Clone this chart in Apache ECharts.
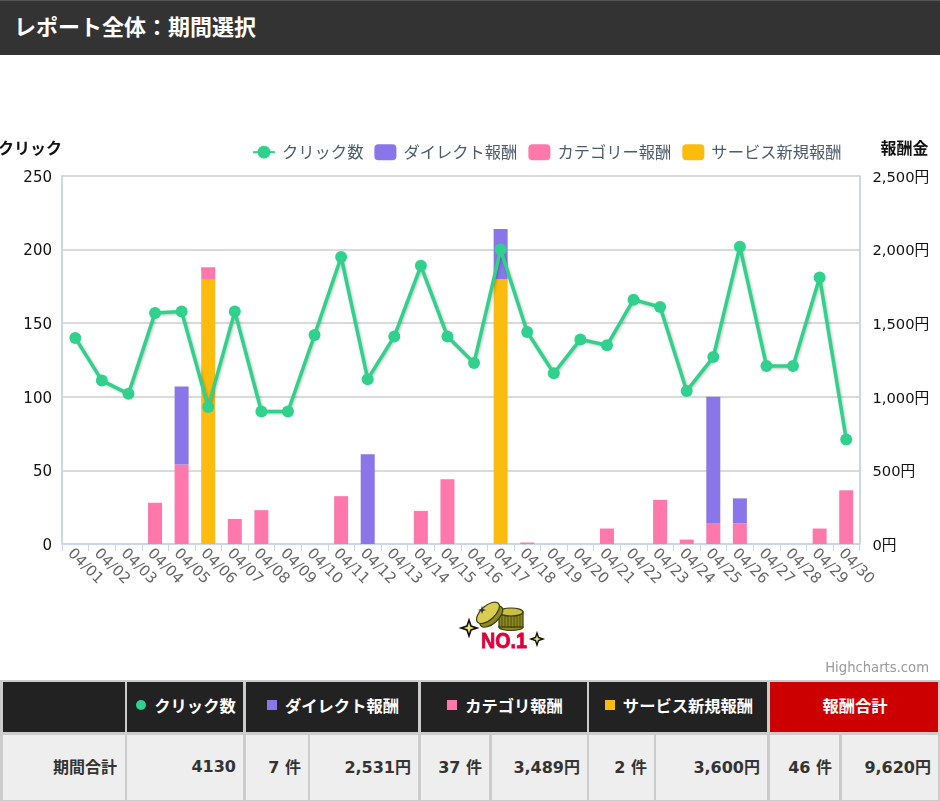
<!DOCTYPE html>
<html lang="ja">
<head>
<meta charset="utf-8">
<title>レポート全体：期間選択</title>
<script src="https://cdn.jsdelivr.net/npm/echarts@6/dist/echarts.min.js"></script>
<style>
html,body{margin:0;padding:0;background:#fff;width:940px;height:801px;overflow:hidden;font-family:"DejaVu Sans","Noto Sans CJK JP",sans-serif}
#chart{position:absolute;left:0;top:0;width:940px;height:801px}
#head{position:absolute;left:0;top:0;width:940px;height:55px;background:#333;color:#fff;font:bold 22px/49px "Noto Sans CJK JP",sans-serif;padding-left:14px;box-sizing:border-box;border-top:1px solid #555}
#tbl{position:absolute;left:0;top:680px;width:940px;height:121px;background:#ccc}
.c{position:absolute;box-sizing:border-box;display:flex;align-items:center;font-weight:bold;font-size:16px}
.h{background:#222;color:#fff;justify-content:center;font-family:"Noto Sans CJK JP",sans-serif;font-size:16.3px;padding:0 0 4px 2px}
.t{background:#c00}
.v{background:#eee;color:#333;justify-content:flex-end;padding-right:7px;padding-bottom:3px}
.m{display:inline-block;margin-right:8px}
#logo{position:absolute;left:458px;top:600px}
</style>
</head>
<body>
<div id="chart"></div>
<div id="head">レポート全体：期間選択</div>
<svg id="logo" width="90" height="54" viewBox="0 0 90 54">
  <g stroke="#3a3a10" stroke-width="1.2">
    <ellipse cx="53" cy="27" rx="12" ry="3.5" fill="#8f8a20"/>
    <rect x="41" y="12" width="24" height="15" fill="#8f8a20"/>
    <path d="M44 14v13M47 14v13M50 14v14M53 14v14M56 14v14M59 14v13M62 14v13" stroke-width=".7"/>
    <ellipse cx="53" cy="12" rx="12" ry="4" fill="#c9bf45"/>
    <g transform="rotate(-42 32 15)">
      <ellipse cx="32" cy="17" rx="14" ry="7" fill="#8f8a20"/>
      <ellipse cx="32" cy="12" rx="14" ry="7" fill="#d8cd50"/>
    </g>
  </g>
  <path d="M11 20 L13 26 L19 28 L13 30 L11 36 L9 30 L3 28 L9 26 Z" fill="#eee56a" stroke="#111" stroke-width="1.6"/>
  <path d="M79 33 L80.5 37.5 L85 39 L80.5 40.5 L79 45 L77.5 40.5 L73 39 L77.5 37.5 Z" fill="#eee56a" stroke="#111" stroke-width="1.4"/>
  <path d="M24 6 L25 9 L28 10 L25 11 L24 14 L23 11 L20 10 L23 9 Z" fill="#333"/>
  <text x="23" y="48" font-family="Liberation Sans" font-weight="bold" font-size="22" fill="#e0003c" stroke="#e0003c" stroke-width=".8" textLength="46" lengthAdjust="spacingAndGlyphs">NO.1</text>
</svg>
<div id="tbl"></div>
<script>
var dates = ['04/01','04/02','04/03','04/04','04/05','04/06','04/07','04/08','04/09','04/10','04/11','04/12','04/13','04/14','04/15','04/16','04/17','04/18','04/19','04/20','04/21','04/22','04/23','04/24','04/25','04/26','04/27','04/28','04/29','04/30'];
var clicks = [140,111,102,157,158,93,158,90,90,142,195,112,141,189,141,123,200,144,116,139,135,166,161,104,127,202,121,121,181,71];
var direct = [0,0,0,0,530,0,0,0,0,0,0,610,0,0,0,0,340,0,0,0,0,0,0,0,860,170,0,0,0,0];
var category = [0,0,0,280,540,80,170,230,0,0,325,0,0,225,440,0,0,10,0,0,105,0,300,30,140,140,0,0,105,365];
var service = [0,0,0,0,0,1800,0,0,0,0,0,0,0,0,0,0,1800,0,0,0,0,0,0,0,0,0,0,0,0,0];
var seriesNames = ['クリック数','ダイレクト報酬','カテゴリー報酬','サービス新規報酬'];
var colors = ['#2fd18d','#8a76e8','#ff78ab','#fbbc0e'];
var headLabels = ['','クリック数','ダイレクト報酬','カテゴリ報酬','サービス新規報酬','報酬合計'];
var rowLabel = '期間合計';
var totals = ['4130','7 件','2,531円','37 件','3,489円','2 件','3,600円','46 件','9,620円'];

var font = '"DejaVu Sans","Noto Sans CJK JP",sans-serif';
var jp = '"Noto Sans CJK JP",sans-serif';
var chart = echarts.init(document.getElementById('chart'), null, {renderer:'canvas'});
function bar(i, data){
  return {name:seriesNames[i],type:'bar',stack:'pay',yAxisIndex:1,data:data,barWidth:14,z:2,
    itemStyle:{color:colors[i]},emphasis:{disabled:true}};
}
chart.setOption({
  animation:false,
  textStyle:{fontFamily:font},
  legend:{left:247,top:139,itemWidth:22,itemHeight:16,itemGap:11,
    textStyle:{color:'#4c5b6c',fontSize:16.3,fontFamily:jp,padding:[0,0,0,2]},
    data:[{name:seriesNames[0]},
      {name:seriesNames[1],icon:'roundRect'},
      {name:seriesNames[2],icon:'roundRect'},
      {name:seriesNames[3],icon:'roundRect'}]},
  grid:{left:62,right:80.5,top:176,height:368,containLabel:false,outerBoundsMode:'none'},
  xAxis:{type:'category',data:dates,boundaryGap:true,
    axisLine:{lineStyle:{color:'#ccd6eb',width:2}},
    axisTick:{show:true,alignWithLabel:false,length:7,lineStyle:{color:'#ccd6eb',width:1}},
    axisLabel:{rotate:-45,interval:0,color:'#666',fontSize:15,margin:2,align:'left',verticalAlign:'top'}},
  yAxis:[
    {type:'value',min:0,max:250,interval:50,
     name:'クリック',nameLocation:'end',nameGap:20,
     nameTextStyle:{color:'#111',fontWeight:'bold',fontSize:16,fontFamily:jp,align:'right'},
     axisLine:{show:true,lineStyle:{color:'#ccd6eb',width:2}},axisTick:{show:false},
     axisLabel:{color:'#111',fontSize:15,margin:10,verticalAlign:'top',lineHeight:4},
     splitLine:{lineStyle:{color:'#dadada',width:2}}},
    {type:'value',min:0,max:2500,interval:500,
     name:'報酬金',nameLocation:'end',nameGap:20,
     nameTextStyle:{color:'#111',fontWeight:'bold',fontSize:16,fontFamily:jp,align:'left',padding:[0,0,0,21]},
     axisLine:{show:true,lineStyle:{color:'#ccd6eb',width:2}},axisTick:{show:false},
     axisLabel:{color:'#111',fontSize:14.7,margin:13,verticalAlign:'top',lineHeight:4,
       formatter:function(v){return v.toLocaleString('en-US')+'円';}},
     splitLine:{show:false}}
  ],
  series:[
    {name:seriesNames[0],type:'line',yAxisIndex:0,data:clicks,z:5,symbol:'circle',symbolSize:12,
     lineStyle:{color:colors[0],width:3.5,shadowColor:'rgba(0,0,0,.25)',shadowBlur:3,shadowOffsetX:1,shadowOffsetY:1},
     itemStyle:{color:colors[0]},emphasis:{disabled:true}},
    bar(3,service),bar(2,category),bar(1,direct)
  ],
  graphic:[{type:'text',right:11,top:662,z:10,
    style:{text:'Highcharts.com',fill:'#999',font:'13.2px '+font}}]
});

// summary table
var headBoxes = [[3,125],[127,243],[246,418],[421,587],[589,767],[770,938]];
var valueBoxes = [[127,243],[246,308],[310,418],[421,489],[492,587],[589,654],[656,767],[770,839],[842,938]];
var markers = [null,{c:colors[0],r:'50%'},{c:colors[1]},{c:colors[2]},{c:colors[3]},null];
var tbl = document.getElementById('tbl');
function cell(cls,x0,x1,y,h){
  var d=document.createElement('div');d.className='c '+cls;
  d.style.cssText='left:'+x0+'px;width:'+(x1-x0)+'px;top:'+y+'px;height:'+h+'px';
  tbl.appendChild(d);return d;
}
headLabels.forEach(function(t,i){
  var b=headBoxes[i],d=cell(i==5?'h t':'h',b[0],b[1],2,50);
  if(markers[i]){var m=document.createElement('span');m.className='m';
    m.style.cssText='width:10px;height:10px;background:'+markers[i].c+(markers[i].r?';border-radius:50%':'');d.appendChild(m);}
  d.appendChild(document.createTextNode(t));
});
var l=cell('v',3,125,55,65);l.style.paddingRight='8px';l.textContent=rowLabel;
totals.forEach(function(t,i){var b=valueBoxes[i];cell('v',b[0],b[1],55,65).textContent=t;});
</script>
</body>
</html>
